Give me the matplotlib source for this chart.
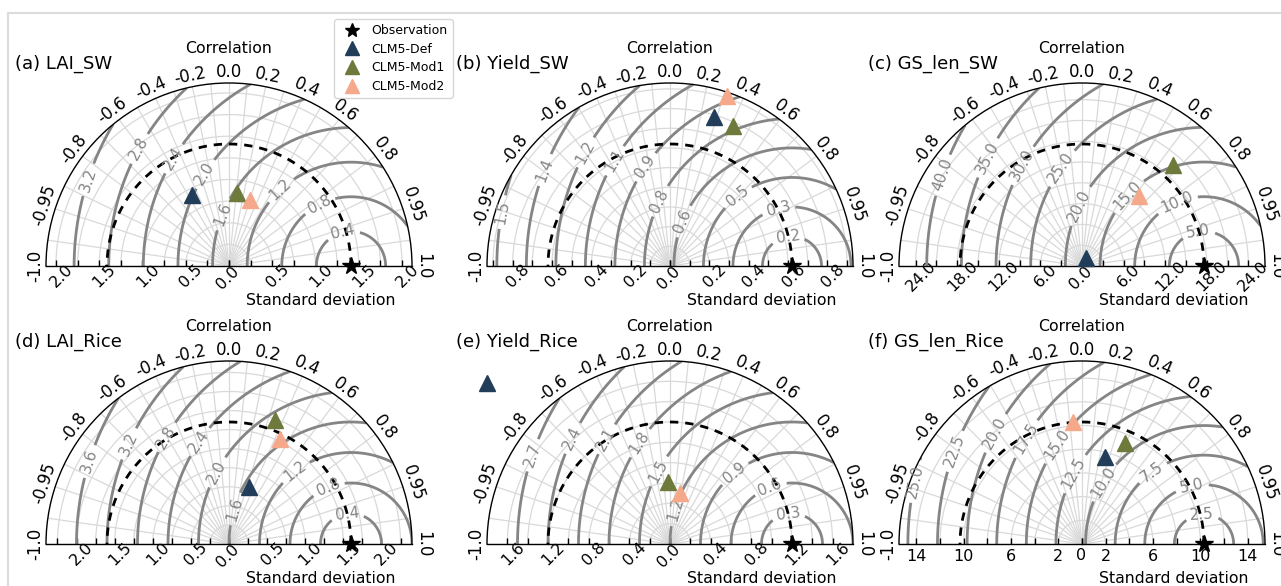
"""Taylor diagrams: LAI, yield and growing-season length, spring wheat and rice."""

import numpy as np
import matplotlib.pyplot as plt
from matplotlib.lines import Line2D

# one entry per panel, (a) .. (f)
titles = ["(a) LAI_SW", "(b) Yield_SW", "(c) GS_len_SW",
          "(d) LAI_Rice", "(e) Yield_Rice", "(f) GS_len_Rice"]
obs_std = [1.41, 0.62, 17.6, 1.60, 1.20, 10.3]

def_std = [0.92, 0.79, 1.27, 0.79, 2.40, 7.63]
def_corr = [-0.46, 0.28, 0.42, 0.34, -0.75, 0.26]
mod1_std = [0.85, 0.78, 19.6, 1.74, 0.61, 9.25]
mod1_corr = [0.11, 0.41, 0.67, 0.35, -0.03, 0.39]
mod2_std = [0.80, 0.91, 13.05, 1.53, 0.51, 10.36]
mod2_corr = [0.31, 0.32, 0.63, 0.44, 0.19, -0.07]

# centred RMS difference contours
rms_levels = [
    [0.4, 0.8, 1.2, 1.6, 2.0, 2.4, 2.8, 3.2],
    [0.15, 0.3, 0.45, 0.6, 0.75, 0.9, 1.05, 1.2, 1.35, 1.5],
    [5, 10, 15, 20, 25, 30, 35, 40],
    [0.4, 0.8, 1.2, 1.6, 2.0, 2.4, 2.8, 3.2, 3.6],
    [0.3, 0.6, 0.9, 1.2, 1.5, 1.8, 2.1, 2.4, 2.7],
    [2.5, 5.0, 7.5, 10.0, 12.5, 15.0, 17.5, 20.0, 22.5, 25.0],
]
# where the contour labels sit: pixel offsets (right, up) from the diagram centre
rms_label_px = [
    [(-140, 86), (-91, 118), (-53, 106), (-24, 92), (-9, 53), (49, 79), (89, 64), (114, 34)],
    [(-163, 53), (-125, 96), (-85, 114), (-53, 104), (-23, 98), (-8, 64), (15, 44),
     (68, 69), (108, 59), (118, 29)],
    [(-140, 91), (-94, 108), (-55, 98), (-22, 99), (0, 59), (45, 71), (95, 63), (116, 36)],
    [(-144, 84), (-104, 102), (-66, 109), (-32, 104), (-16, 74), (3, 36), (63, 77),
     (99, 57), (118, 32)],
    [(-138, 89), (-98, 106), (-62, 104), (-30, 101), (-8, 71), (7, 34), (62, 74),
     (100, 57), (118, 32)],
    [(-164, 62), (-125, 92), (-87, 111), (-54, 104), (-22, 97), (-5, 69), (23, 61),
     (71, 71), (110, 57), (120, 31)],
]

# standard deviation axis
std_step = [0.25, 0.1, 3.0, 0.25, 0.2, 2.0]
std_labels = [
    [0.0, 0.5, 1.0, 1.5, 2.0],
    [0.0, 0.2, 0.4, 0.6, 0.8],
    [0, 6, 12, 18, 24],
    [0.0, 0.5, 1.0, 1.5, 2.0],
    [0.0, 0.4, 0.8, 1.2, 1.6],
    [0, 2, 6, 10, 14],
]
std_fmt = ["%.1f", "%.1f", "%.1f", "%.1f", "%.1f", "%d"]
std_rot = [45, 45, 45, 45, 45, 0]

corr_ticks = [-1.0, -0.95, -0.8, -0.6, -0.4, -0.2, 0.0, 0.2, 0.4, 0.6, 0.8, 0.95, 1.0]
corr_ticklabels = ["-1.0", "-0.95", "-0.8", "-0.6", "-0.4", "-0.2", "0.0",
                   "0.2", "0.4", "0.6", "0.8", "0.95", "1.0"]
corr_minor = [-0.99, -0.9, -0.7, -0.5, -0.3, -0.1, 0.1, 0.3, 0.5, 0.7, 0.9, 0.99]

c_def = "#213d5a"
c_mod1 = "#6e7a3c"
c_mod2 = "#f5a98a"
c_rms = "#858585"
c_grid = "#d9d9d9"

W, H = 1281, 586
R = 183
centers = [(229, 266), (670, 266), (1082, 266), (229, 544), (670, 544), (1082, 544)]


def at(u, v):
    """Axes coords of a point u, v radii right/up of the diagram centre."""
    return 0.5 + u / 2, 0.25 + v / 2


fig = plt.figure(figsize=(W / 100, H / 100), dpi=100)

for i, (cx, cy) in enumerate(centers):
    # polar half-disc sits in a square box: baseline at 1/4 height
    ax = fig.add_axes([(cx - R) / W, (H - cy - R / 2) / H, 2 * R / W, 2 * R / H],
                      projection="polar")
    ax.set_thetamin(0)
    ax.set_thetamax(180)
    ref = obs_std[i]
    smax = 1.5 * ref
    ax.set_ylim(0, smax)

    # correlation axis
    ax.set_xticks(np.arccos(corr_ticks))
    ax.set_xticklabels(corr_ticklabels)
    ax.set_xticks(np.arccos(corr_minor), minor=True)
    ax.tick_params(axis="x", which="major", direction="in", length=5, width=1,
                   labelsize=12, pad=1, labelrotation="auto")
    ax.tick_params(axis="x", which="minor", length=0)

    # std axis, mirrored on both halves; the shared zero is written once
    rt = np.arange(0, smax, std_step[i])
    ax.set_yticks(rt)
    ax.set_yticklabels([std_fmt[i] % v if v > 0 and np.any(np.isclose(v, std_labels[i]))
                        else "" for v in rt])
    ax.tick_params(axis="y", direction="in", length=4, width=1, labelsize=11.5,
                   labelrotation=std_rot[i], left=True, right=True,
                   labelleft=True, labelright=True)
    ax.annotate(std_fmt[i] % 0, xy=(0, 0), xytext=(-1, -8.5), textcoords="offset points",
                rotation=std_rot[i], ha="center", va="center", fontsize=11.5)

    ax.grid(True, which="both", color=c_grid, lw=0.9)
    for sp in ax.spines.values():
        sp.set_linewidth(1.0)

    # RMS difference contours
    th = np.linspace(0, np.pi, 361)
    rr = np.linspace(0, smax, 240)
    T, RR = np.meshgrid(th, rr)
    rms = np.sqrt(RR ** 2 + ref ** 2 - 2 * RR * ref * np.cos(T))
    cs = ax.contour(T, RR, rms, levels=rms_levels[i], colors=c_rms, linewidths=2)
    spots = [(np.arctan2(v, u), np.hypot(u, v) / R * smax) for u, v in rms_label_px[i]]
    ax.clabel(cs, inline=True, fontsize=11, manual=spots,
              fmt=lambda v: f"{v + 1e-9:.1f}")

    # reference std arc
    ax.plot(th, np.full_like(th, ref), color="k", ls="--", lw=2, dashes=(3, 2.5))

    ax.plot(0, ref, "*", color="k", ms=13, clip_on=False, zorder=6, label="Observation")
    ax.plot(np.arccos(def_corr[i]), def_std[i], "^", ms=12, color=c_def,
            clip_on=False, zorder=5, label="CLM5-Def")
    ax.plot(np.arccos(mod1_corr[i]), mod1_std[i], "^", ms=12, color=c_mod1,
            clip_on=False, zorder=5, label="CLM5-Mod1")
    ax.plot(np.arccos(mod2_corr[i]), mod2_std[i], "^", ms=12, color=c_mod2,
            clip_on=False, zorder=5, label="CLM5-Mod2")

    ax.text(*at(0, 1.186), "Correlation", transform=ax.transAxes,
            ha="center", va="center", fontsize=11.3)
    ax.text(*at(0.503, -0.19), "Standard deviation", transform=ax.transAxes,
            ha="center", va="center", fontsize=11.3)
    ax.text(*at(-1.17, 1.107), titles[i], transform=ax.transAxes,
            ha="left", va="center", fontsize=13)

    if i == 0:
        handles, labels = ax.get_legend_handles_labels()

fig.legend(handles, labels, loc="upper left", bbox_to_anchor=(334 / W, 1 - 19 / H),
           fontsize=9, markerscale=0.8, labelspacing=0.45, handletextpad=0.6,
           borderpad=0.4, borderaxespad=0)

# screenshot frame
fig.add_artist(Line2D([8 / W, 1], [1 - 12.5 / H, 1 - 12.5 / H], color="#dcdcdc", lw=1.5))
fig.add_artist(Line2D([8 / W, 8 / W], [0, 1 - 12.5 / H], color="#dcdcdc", lw=1.5))

fig.savefig("out.png", dpi=100)
